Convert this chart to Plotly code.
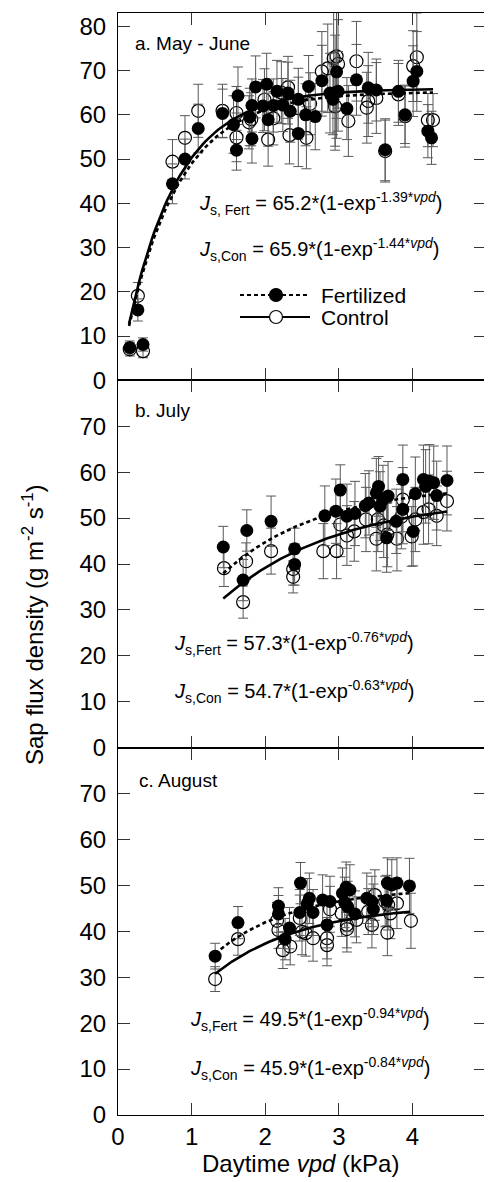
import numpy as np
import plotly.graph_objects as go
from plotly.subplots import make_subplots

# ---------------- data ----------------
# Panel a: May - June
a_fert_vpd = [0.16, 0.27, 0.34, 0.74, 0.91, 1.09, 1.42, 1.57, 1.61, 1.63, 1.79, 1.82, 1.82, 1.87, 1.97,
              2.02, 2.04, 2.11, 2.16, 2.24, 2.31, 2.34, 2.45, 2.45, 2.55, 2.59, 2.68, 2.77, 2.88, 2.92,
              2.95, 2.97, 2.99, 3.11, 3.24, 3.40, 3.51, 3.63, 3.81, 3.90, 4.01, 4.06, 4.21, 4.26]
a_fert_js = [7.4, 15.9, 8.1, 44.4, 50.0, 56.9, 60.3, 57.8, 52.0, 64.3, 59.5, 62.1, 54.6, 66.3, 62.0,
             66.9, 58.9, 62.1, 65.3, 62.2, 64.9, 60.8, 63.5, 55.8, 60.0, 66.4, 59.6, 67.7, 64.9, 63.5,
             65.0, 69.7, 65.3, 61.4, 67.9, 66.1, 65.6, 52.1, 65.3, 60.0, 67.6, 69.8, 56.3, 54.8]
a_fert_err = [1.5, 2.5, 1.5, 4.5, 4.5, 5.5, 5.5, 6.5, 4.5, 6.5, 6.5, 6, 5.5, 7, 6,
              7, 6, 6, 7, 6, 7, 7, 7, 7.5, 7, 7, 7.5, 8, 9, 8,
              13, 15, 9, 7, 8, 8, 7, 7, 7, 6.5, 8, 9, 6, 6]
a_con_vpd = [0.16, 0.27, 0.34, 0.74, 0.91, 1.09, 1.42, 1.61, 1.61, 1.78, 1.81, 1.99, 2.04, 2.11, 2.22,
             2.31, 2.33, 2.45, 2.56, 2.61, 2.77, 2.85, 2.93, 2.95, 2.97, 2.99, 3.13, 3.24, 3.38, 3.40,
             3.51, 3.63, 3.81, 3.90, 4.01, 4.06, 4.21, 4.28]
a_con_js = [7.0, 19.1, 6.6, 49.4, 54.8, 60.9, 60.9, 60.4, 54.9, 58.3, 59.0, 63.4, 54.4, 59.2, 65.0,
            66.2, 55.4, 61.5, 54.8, 62.5, 69.8, 70.5, 72.8, 61.9, 73.2, 71.5, 58.6, 72.1, 61.6, 63.1,
            63.8, 51.8, 64.6, 59.7, 71.0, 73.0, 58.8, 58.8]
a_con_err = [1.5, 3, 1.5, 5, 5, 6, 6, 6, 5.5, 6, 6, 7, 6, 6, 7,
             7, 6.5, 7, 7, 7, 9, 10, 12, 9, 14, 10, 8, 9, 8, 8,
             8, 7, 7, 7, 8, 10, 6, 6]

# Panel b: July
b_fert_vpd = [1.43, 1.70, 1.75, 2.08, 2.40, 2.40, 2.81, 2.96, 3.02, 3.11, 3.22, 3.36, 3.41, 3.51, 3.54,
              3.56, 3.60, 3.65, 3.67, 3.78, 3.87, 3.87, 4.01, 4.04, 4.15, 4.18, 4.23, 4.29, 4.33, 4.47]
b_fert_js = [43.7, 36.5, 47.3, 49.3, 43.3, 39.9, 50.5, 51.5, 56.1, 50.4, 51.0, 52.7, 53.3, 55.5, 56.9,
             52.6, 54.0, 45.7, 54.8, 49.3, 58.4, 51.9, 47.1, 55.3, 58.4, 56.9, 58.0, 57.7, 54.9, 58.2]
b_fert_err = [4.5, 4.5, 4.5, 5.5, 4.5, 4.5, 6.5, 7, 5.5, 7, 7, 7, 7, 7.5, 6.5,
              7.5, 7.5, 7.5, 7.5, 7, 7.5, 7.5, 7.5, 8, 7.5, 8, 8, 8, 7.5, 7.5]
b_con_vpd = [1.44, 1.70, 1.74, 2.08, 2.38, 2.38, 2.79, 2.97, 3.02, 3.11, 3.21, 3.37, 3.51, 3.53, 3.61,
             3.66, 3.79, 3.85, 3.87, 3.99, 4.04, 4.15, 4.22, 4.33, 4.47]
b_con_js = [39.1, 31.7, 40.6, 42.8, 38.9, 37.2, 42.8, 42.8, 48.6, 46.2, 47.1, 49.7, 45.5, 49.7, 48.4,
            46.4, 45.5, 50.3, 54.0, 46.0, 49.7, 51.3, 51.9, 50.5, 53.7]
b_con_err = [4, 3.5, 4, 5, 3.5, 3.5, 6, 6, 7, 6.5, 6.5, 7, 7, 7, 7,
             7, 7, 7, 7, 6.5, 7, 7, 7.5, 6.5, 6.5]

# Panel c: August
c_fert_vpd = [1.32, 1.63, 2.18, 2.18, 2.27, 2.33, 2.47, 2.48, 2.57, 2.60, 2.65, 2.78, 2.84, 2.88, 3.05,
              3.08, 3.10, 3.12, 3.15, 3.22, 3.38, 3.45, 3.47, 3.65, 3.66, 3.72, 3.79, 3.96]
c_fert_js = [34.6, 41.9, 45.5, 43.8, 38.3, 40.7, 44.1, 50.5, 46.0, 47.2, 44.1, 46.8, 41.4, 46.5, 48.3,
             46.3, 49.6, 45.4, 49.0, 43.8, 47.2, 46.5, 44.8, 46.7, 50.5, 50.1, 50.5, 49.9]
c_fert_err = [2.8, 3.5, 4, 4, 4.5, 4.5, 5, 4.5, 5.5, 5.5, 5, 5.5, 5, 5.5, 5.5,
              5.5, 5.5, 5.5, 5.5, 5, 5.5, 5.5, 5.5, 5.5, 5.5, 5.5, 5.5, 6]
c_con_vpd = [1.32, 1.63, 2.16, 2.18, 2.24, 2.34, 2.47, 2.50, 2.55, 2.65, 2.84, 2.84, 2.88, 3.04, 3.11,
             3.11, 3.24, 3.40, 3.45, 3.49, 3.63, 3.66, 3.67, 3.70, 3.79, 3.98]
c_con_js = [29.6, 38.3, 42.3, 40.3, 35.9, 36.7, 42.9, 39.9, 39.6, 38.5, 38.5, 37.0, 44.8, 43.9, 41.4,
            40.5, 42.5, 44.3, 41.4, 47.9, 46.5, 39.7, 45.8, 43.9, 46.1, 42.3]
c_con_err = [2.7, 3.5, 4, 4, 4, 4, 5, 5, 5, 5, 4.5, 4.5, 5, 5, 5,
             5, 5, 5, 5, 5.5, 5.5, 5, 5.5, 5.5, 5.5, 6]

# fitted model parameters  Js = A*(1-exp(-k*vpd))
fit_fert_A = [65.2, 57.3, 49.5]
fit_fert_k = [1.39, 0.76, 0.94]
fit_con_A = [65.9, 54.7, 45.9]
fit_con_k = [1.44, 0.63, 0.84]
fit_vpd_min = [0.15, 1.43, 1.32]
fit_vpd_max = [4.28, 4.47, 3.97]

panel_titles = ["a. May - June", "b. July", "c. August"]
fert_subs = ["s, Fert", "s,Fert", "s,Fert"]
con_subs = ["s,Con", "s,Con", "s,Con"]
y_ranges = [[0, 83], [0, 80], [0, 80]]
y_ticks = [list(range(0, 81, 10)), list(range(0, 71, 10)), list(range(0, 71, 10))]
x_ticks = [0, 1, 2, 3, 4, 5]

panels = [
    (a_fert_vpd, a_fert_js, a_fert_err, a_con_vpd, a_con_js, a_con_err),
    (b_fert_vpd, b_fert_js, b_fert_err, b_con_vpd, b_con_js, b_con_err),
    (c_fert_vpd, c_fert_js, c_fert_err, c_con_vpd, c_con_js, c_con_err),
]

# ---------------- layout geometry ----------------
OFF = 8                      # page body margin of the html page
W, H = 492 - OFF, 1182 - OFF
ML, MR, MT, MB = 118 - OFF, 6, 13 - OFF, 67
PW = W - ML - MR
PH = H - MT - MB
FONT = "Liberation Sans, Arial, Helvetica, sans-serif"


def px_x(px):
    return (px - OFF - ML) / PW


def px_y(py):
    return (H - MB - (py - OFF)) / PH


fig = make_subplots(rows=3, cols=1, vertical_spacing=0)

ERR_COLOR = "#585858"
for i, (fx, fy, fe, cx, cy, ce) in enumerate(panels):
    r = i + 1
    # Control (open)
    fig.add_trace(go.Scatter(
        x=cx, y=cy, mode="markers",
        error_y=dict(type="data", array=ce, color=ERR_COLOR, thickness=1, width=5),
        marker=dict(symbol="circle-open", size=13, color="black", line=dict(width=1.2)),
        showlegend=False, name="Control"), row=r, col=1)
    # Fertilized (filled)
    fig.add_trace(go.Scatter(
        x=fx, y=fy, mode="markers",
        error_y=dict(type="data", array=fe, color=ERR_COLOR, thickness=1, width=5),
        marker=dict(symbol="circle", size=13, color="black", line=dict(width=0)),
        showlegend=False, name="Fertilized"), row=r, col=1)
    # fitted curves
    xx = np.linspace(fit_vpd_min[i], fit_vpd_max[i], 120)
    fig.add_trace(go.Scatter(
        x=xx, y=fit_fert_A[i] * (1 - np.exp(-fit_fert_k[i] * xx)), mode="lines",
        line=dict(color="black", width=2.6, dash="4px,3px"), showlegend=False,
        hoverinfo="skip"), row=r, col=1)
    fig.add_trace(go.Scatter(
        x=xx, y=fit_con_A[i] * (1 - np.exp(-fit_con_k[i] * xx)), mode="lines",
        line=dict(color="black", width=2.6), showlegend=False,
        hoverinfo="skip"), row=r, col=1)

    fig.update_yaxes(range=y_ranges[i], tickvals=y_ticks[i], ticks="inside", ticklen=12,
                     tickcolor="#333", mirror="ticks", showline=True, linecolor="black",
                     linewidth=1, showgrid=False, zeroline=False,
                     tickfont=dict(family=FONT, size=24, color="black"),
                     ticklabelstandoff=6, row=r, col=1)
    fig.update_xaxes(range=[0, 5], tickvals=x_ticks, ticks="inside", ticklen=12,
                     tickcolor="#333", mirror="ticks", showline=True, linecolor="black",
                     linewidth=1, showgrid=False, zeroline=False,
                     showticklabels=(r == 3),
                     tickfont=dict(family=FONT, size=24, color="black"),
                     row=r, col=1)

annotations = []
shapes = []

# panel labels
label_pos = [(133, 43), (133, 410), (137, 780)]
for i, (lx, ly) in enumerate(label_pos):
    annotations.append(dict(text=panel_titles[i], x=px_x(lx), y=px_y(ly), xref="paper", yref="paper",
                            xanchor="left", yanchor="middle", showarrow=False,
                            font=dict(family=FONT, size=19, color="black")))

# equations
eq_pos = [((197, 203), (197, 250)), ((172, 643), (172, 692)), ((188, 1020), (188, 1068))]
for i in range(3):
    (x1, y1), (x2, y2) = eq_pos[i]
    t1 = ("<i>J</i><sub>%s</sub> = %.1f*(1-exp<sup>-%.2f*<i>vpd</i></sup>)"
          % (fert_subs[i], fit_fert_A[i], fit_fert_k[i]))
    t2 = ("<i>J</i><sub>%s</sub> = %.1f*(1-exp<sup>-%.2f*<i>vpd</i></sup>)"
          % (con_subs[i], fit_con_A[i], fit_con_k[i]))
    for t, (ex, ey) in ((t1, (x1, y1)), (t2, (x2, y2))):
        annotations.append(dict(text=t, x=px_x(ex), y=px_y(ey), xref="paper", yref="paper",
                                xanchor="left", yanchor="middle", showarrow=False,
                                font=dict(family=FONT, size=20, color="black")))

# legend (panel a)
leg_items = [("Fertilized", 295, "4px,3px", "black"), ("Control", 317, "solid", "white")]
for name, ly, dash, fill in leg_items:
    shapes.append(dict(type="line", xref="paper", yref="paper", x0=px_x(240), x1=px_x(310),
                       y0=px_y(ly), y1=px_y(ly), line=dict(color="black", width=2, dash=dash)))
    shapes.append(dict(type="circle", xref="paper", yref="paper", xsizemode="pixel",
                       ysizemode="pixel", xanchor=px_x(276), yanchor=px_y(ly),
                       x0=-6.5, x1=6.5, y0=-6.5, y1=6.5, fillcolor=fill,
                       line=dict(color="black", width=1.2)))
    annotations.append(dict(text=name, x=px_x(319), y=px_y(ly), xref="paper", yref="paper",
                            xanchor="left", yanchor="middle", showarrow=False,
                            font=dict(family=FONT, size=21, color="black")))

# axis titles
annotations.append(dict(text="Daytime <i>vpd</i> (kPa)", x=px_x(300), y=px_y(1163),
                        xref="paper", yref="paper", xanchor="center", yanchor="middle",
                        showarrow=False, font=dict(family=FONT, size=24, color="black")))
annotations.append(dict(text="Sap flux density (g m<sup>-2</sup> s<sup>-1</sup>)",
                        x=px_x(33), y=px_y(625), xref="paper", yref="paper",
                        xanchor="center", yanchor="middle", textangle=-90,
                        showarrow=False, font=dict(family=FONT, size=24, color="black")))

fig.update_layout(
    width=W, height=H, autosize=False,
    margin=dict(l=ML, r=MR, t=MT, b=MB, pad=0),
    paper_bgcolor="white", plot_bgcolor="white",
    annotations=annotations, shapes=shapes,
    font=dict(family=FONT, color="black"),
    showlegend=False,
)

fig.write_html("out.html")
